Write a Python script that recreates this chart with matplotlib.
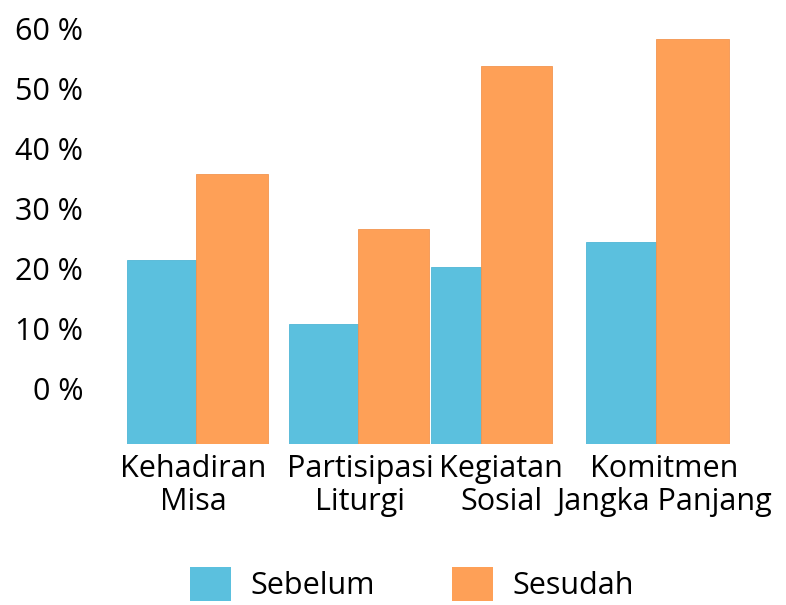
import numpy as np
import matplotlib.pyplot as plt
from matplotlib.patches import Patch

categories = ["Kehadiran\nMisa", "Partisipasi\nLiturgi", "Kegiatan\nSosial", "Komitmen\nJangka Panjang"]
sebelum = [21.3, 10.7, 20.2, 24.3]
sesudah = [35.7, 26.5, 53.7, 58.2]
yticks = [0, 10, 20, 30, 40, 50, 60]

c_seb = "#5BC0DE"
c_ses = "#FEA057"

plt.rcParams["font.family"] = ["Open Sans", "DejaVu Sans"]

fig = plt.figure(figsize=(7.86, 6.05), dpi=100)
ax = fig.add_axes([100/786, 161/605, 660/786, 425/605])

# group positions (uneven spacing as in the original)
gx = np.array([196, 358, 481, 656])
label_x = [193, 360, 501, 664]
w_seb = [69, 69, 50, 70]
w_ses = [72, 71, 71, 73]
base = -9.3

ax.bar(gx, np.array(sebelum) - base, bottom=base, width=[-w for w in w_seb],
       align="edge", color=c_seb, edgecolor="#4FB6D6", linewidth=0.6)
ax.bar(gx, np.array(sesudah) - base, bottom=base, width=w_ses,
       align="edge", color=c_ses, edgecolor="#F39550", linewidth=0.6)

ax.set_xlim(100, 760)
ax.set_ylim(base, 61.5)
ax.set_yticks(yticks)
ax.set_yticklabels([f"{v} %" for v in yticks], fontsize=22)
ax.set_xticks(label_x)
ax.set_xticklabels(categories, fontsize=22, linespacing=1.15)
ax.tick_params(length=0)
ax.tick_params(axis="y", pad=12)
ax.tick_params(axis="x", pad=7)
for s in ax.spines.values():
    s.set_visible(False)

handles = [Patch(facecolor=c_seb, label="Sebelum"), Patch(facecolor=c_ses, label="Sesudah")]
fig.legend(handles=handles, loc="center", bbox_to_anchor=(412/786, 1 - 584/605), ncol=2,
           frameon=False, fontsize=22, handlelength=1.35, handleheight=1.35,
           columnspacing=2.5, handletextpad=0.65, borderpad=0.2)

fig.savefig("out.png", dpi=100)
